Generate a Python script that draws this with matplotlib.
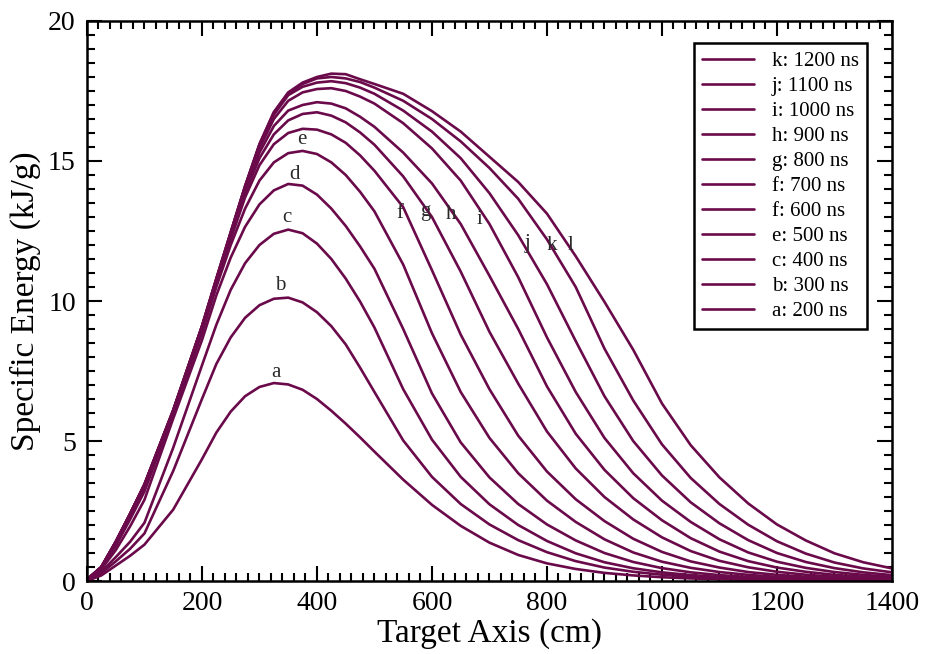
import matplotlib
matplotlib.use("Agg")
import matplotlib.pyplot as plt
from matplotlib.ticker import MultipleLocator

# Shared x grid (cm along target axis)
x_cm = [0, 25, 50, 75, 100, 150, 200, 225, 250, 275, 300, 325, 350, 375, 400, 425, 450,
        475, 500, 550, 600, 650, 700, 750, 800, 850, 900, 950, 1000, 1050, 1100,
        1150, 1200, 1250, 1300, 1350, 1400]

# Specific energy (kJ/g)
curve_a = [0.0, 0.2, 0.55, 0.9, 1.3, 2.55, 4.35, 5.3, 6.05, 6.6, 6.93, 7.07, 7.02, 6.83, 6.5, 6.08, 5.62,
           5.13, 4.62, 3.62, 2.72, 1.97, 1.37, 0.93, 0.63, 0.43, 0.29, 0.2, 0.135, 0.092, 0.063,
           0.043, 0.029, 0.02, 0.014, 0.01, 0.007]
curve_b = [0.02, 0.28, 0.7, 1.15, 1.7, 3.93, 6.5, 7.75, 8.7, 9.4, 9.85, 10.08, 10.12, 9.95, 9.6, 9.1, 8.45,
           7.62, 6.75, 5.02, 3.72, 2.75, 2.02, 1.46, 1.03, 0.71, 0.48, 0.33, 0.225, 0.153, 0.104,
           0.07, 0.048, 0.033, 0.022, 0.015, 0.01]
curve_c = [0.03, 0.33, 0.85, 1.4, 2.08, 4.76, 7.7, 9.15, 10.4, 11.35, 12.0, 12.4, 12.55, 12.42, 12.05, 11.5, 10.8,
           9.98, 9.05, 6.85, 5.05, 3.72, 2.74, 2.0, 1.43, 0.99, 0.67, 0.455, 0.31, 0.21, 0.143,
           0.097, 0.066, 0.045, 0.03, 0.021, 0.014]
curve_d = [0.04, 0.42, 1.1, 1.95, 2.9, 5.8, 8.6, 10.2, 11.55, 12.65, 13.45, 13.95, 14.18, 14.12, 13.8, 13.3, 12.68,
           11.95, 11.15, 9.0, 6.7, 4.95, 3.7, 2.75, 2.02, 1.45, 1.0, 0.68, 0.46, 0.31, 0.21,
           0.145, 0.1, 0.067, 0.046, 0.031, 0.021]
curve_e = [0.05, 0.47, 1.25, 2.2, 3.2, 5.95, 8.85, 10.5, 12.0, 13.3, 14.3, 14.95, 15.28, 15.36, 15.25, 14.95, 14.5,
           13.9, 13.2, 11.3, 8.85, 6.75, 5.11, 3.85, 2.87, 2.11, 1.49, 1.02, 0.69, 0.47, 0.32,
           0.22, 0.148, 0.1, 0.068, 0.046, 0.031]
curve_f = [0.05, 0.48, 1.3, 2.3, 3.3, 6.0, 8.95, 10.6, 12.2, 13.7, 14.85, 15.6, 16.0, 16.15, 16.12, 15.95, 15.65,
           15.2, 14.65, 13.35, 11.1, 8.8, 6.85, 5.19, 3.91, 2.92, 2.14, 1.51, 1.04, 0.7, 0.48,
           0.32, 0.22, 0.15, 0.1, 0.07, 0.048]
curve_g = [0.05, 0.49, 1.35, 2.35, 3.38, 6.05, 9.0, 10.65, 12.3, 13.85, 15.1, 15.95, 16.45, 16.68, 16.74, 16.62, 16.38,
           16.02, 15.58, 14.45, 13.0, 11.05, 8.9, 7.05, 5.34, 4.02, 3.0, 2.2, 1.56, 1.07, 0.72,
           0.49, 0.33, 0.225, 0.153, 0.104, 0.071]
curve_h = [0.05, 0.5, 1.38, 2.38, 3.42, 6.05, 9.05, 10.7, 12.35, 13.95, 15.3, 16.25, 16.8, 17.0, 17.1, 17.05, 16.88,
           16.58, 16.22, 15.3, 14.2, 12.75, 10.9, 9.0, 6.95, 5.26, 3.97, 2.96, 2.17, 1.53, 1.05,
           0.71, 0.48, 0.33, 0.22, 0.15, 0.1]
curve_i = [0.05, 0.5, 1.4, 2.4, 3.45, 6.08, 9.08, 10.75, 12.4, 14.05, 15.45, 16.5, 17.15, 17.45, 17.57, 17.6, 17.5,
           17.3, 17.05, 16.35, 15.45, 14.3, 12.75, 10.85, 8.7, 6.75, 5.11, 3.85, 2.87, 2.11, 1.49,
           1.02, 0.69, 0.47, 0.32, 0.22, 0.148]
curve_j = [0.05, 0.5, 1.4, 2.4, 3.45, 6.1, 9.1, 10.78, 12.45, 14.1, 15.55, 16.65, 17.35, 17.65, 17.8, 17.85, 17.78,
           17.62, 17.4, 16.8, 16.05, 15.1, 13.85, 12.35, 10.6, 8.57, 6.6, 5.0, 3.77, 2.81, 2.06,
           1.46, 1.0, 0.68, 0.46, 0.31, 0.21]
curve_k = [0.05, 0.5, 1.4, 2.4, 3.45, 6.1, 9.1, 10.8, 12.45, 14.1, 15.6, 16.72, 17.42, 17.75, 17.95, 18.0, 17.95,
           17.82, 17.62, 17.15, 16.5, 15.7, 14.75, 13.65, 12.2, 10.5, 8.3, 6.45, 4.88, 3.68, 2.75,
           2.01, 1.42, 0.98, 0.66, 0.45, 0.31]
curve_l = [0.05, 0.5, 1.4, 2.4, 3.45, 6.1, 9.1, 10.8, 12.45, 14.1, 15.6, 16.75, 17.45, 17.8, 18.0, 18.12, 18.1,
           17.92, 17.75, 17.4, 16.78, 16.05, 15.15, 14.25, 13.12, 11.6, 9.97, 8.26, 6.34, 4.85, 3.7,
           2.77, 2.02, 1.45, 0.99, 0.67, 0.45]

curves = [curve_a, curve_b, curve_c, curve_d, curve_e, curve_f,
          curve_g, curve_h, curve_i, curve_j, curve_k, curve_l]

# In-plot curve tags
tag_names = ['a', 'b', 'c', 'd', 'e', 'f', 'g', 'h', 'i', 'j', 'k', 'l']
tag_x = [329, 336, 347, 361, 374, 544, 588, 633, 683, 767, 808, 841]
tag_y = [7.46, 10.55, 12.97, 14.5, 15.75, 13.13, 13.19, 13.1, 12.9, 12.06, 12.0, 12.0]

# Legend entries, top to bottom (as printed in the original)
legend_labels = ['k: 1200 ns', 'j: 1100 ns', 'i: 1000 ns', 'h: 900 ns', 'g: 800 ns',
                 'f: 700 ns', 'f: 600 ns', 'e: 500 ns', 'c: 400 ns', 'b: 300 ns',
                 'a: 200 ns']

plt.rcParams['font.family'] = ['Liberation Serif', 'DejaVu Serif']

fig = plt.figure(figsize=(9.3, 6.54), dpi=100)
ax = fig.add_axes([0.0935, 0.1116, 0.8656, 0.8563])

color = '#6a0a4a'
lines = []
for ys in curves:
    ln, = ax.plot(x_cm, ys, color=color, lw=1.9, solid_joinstyle='round',
                  solid_capstyle='round')
    lines.append(ln)

for name, tx, ty in zip(tag_names, tag_x, tag_y):
    ax.text(tx, ty, name, ha='center', va='center', fontsize=15, color='#2a2a2a')

ax.set_xlim(0, 1400)
ax.set_ylim(0, 20)
ax.xaxis.set_major_locator(MultipleLocator(200))
ax.xaxis.set_minor_locator(MultipleLocator(20))
ax.yaxis.set_major_locator(MultipleLocator(5))
ax.yaxis.set_minor_locator(MultipleLocator(0.5))
ax.tick_params(which='both', direction='in', top=True, right=True, width=1.5,
               colors='black')
ax.tick_params(which='major', length=11, labelsize=20)
ax.tick_params(which='minor', length=6)
ax.tick_params(axis='x', which='major', pad=7)
ax.tick_params(axis='y', which='major', pad=8)
for s in ax.spines.values():
    s.set_linewidth(1.8)

ax.set_xlabel('Target Axis (cm)', fontsize=24, labelpad=2)
ax.set_ylabel('Specific Energy (kJ/g)', fontsize=24, labelpad=5)

handles = lines[10::-1]
leg = ax.legend(handles=handles, labels=legend_labels, loc='upper right',
                bbox_to_anchor=(0.969, 0.9607), borderaxespad=0, fontsize=15,
                frameon=True, fancybox=False, edgecolor='black', framealpha=1,
                handlelength=2.5, handletextpad=0.85, labelspacing=0.26,
                borderpad=0.4)
leg.get_frame().set_linewidth(1.8)

fig.savefig('out.png', dpi=100)
